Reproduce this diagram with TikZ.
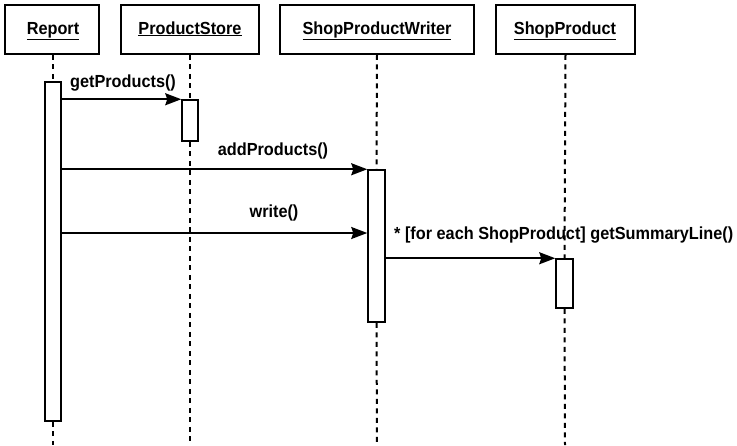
\documentclass[tikz,border=0pt]{standalone}
\usepackage{fontspec}
\setmainfont{Liberation Sans}[BoldFeatures={FakeStretch=0.93}]
\usetikzlibrary{arrows.meta}
\begin{document}
\begin{tikzpicture}[x=1pt,y=-1pt,
  font=\fontsize{17.5}{20}\selectfont\bfseries,
  header/.style={draw, line width=1.6pt, rectangle, minimum height=49pt, inner sep=0pt},
  act/.style={draw, line width=1.5pt, rectangle, fill=white, inner sep=0pt},
  life/.style={line width=2pt, dash pattern=on 5pt off 4.5pt},
  msg/.style={line width=1.7pt, -{Stealth[length=16pt,width=12pt,inset=2pt]}},
  lbl/.style={inner sep=0pt, anchor=base}]
\useasboundingbox (0,0) rectangle (737,445);
\fill[white] (0,0) rectangle (737,445);

% headers
\node[header, minimum width=94pt] (rep) at (52,29.5) {};
\node[header, minimum width=138pt] (ps) at (190,29.5) {};
\node[header, minimum width=194pt] (spw) at (377,29.5) {};
\node[header, minimum width=139pt] (sp) at (565.5,29.5) {};
\node[lbl] (repT) at (53,34) {\underline{Report}};
\node[lbl] (psT) at (190,34) {\underline{ProductStore}};
\node[lbl] (spwT) at (377,34) {\underline{ShopProductWriter}};
\node[lbl] (spT) at (565,34) {\underline{ShopProduct}};

% bottom ends of lifelines
\coordinate (repB) at (53,445);
\coordinate (psB) at (190,445);
\coordinate (spwB) at (377,445);
\coordinate (spB) at (565,445);

% activations
\node[act, minimum width=16pt, minimum height=339pt] (ra) at (53,251.5) {};
\node[act, minimum width=16pt, minimum height=41pt] (psa) at (190,120.5) {};
\node[act, minimum width=17pt, minimum height=152pt] (spwa) at (376.5,246) {};
\node[act, minimum width=17pt, minimum height=49pt] (spa) at (564.5,283.5) {};

% lifelines
\draw[life] (rep.south -| ra.north) -- (ra.north);
\draw[life] (ra.south) -- (repB);
\draw[life] (ps.south) -- (psa.north);
\draw[life] (psa.south) -- (psB);
\draw[life] (spw.south) -- (spwa.north);
\draw[life] (spwa.south) -- (spwB);
\draw[life] (sp.south) -- (spa.north);
\draw[life] (spa.south) -- (spB);

% messages
\coordinate (wy) at (0,233);
\draw[msg] (ra.east |- psa.north) -- (psa.north west);
\draw[msg] (ra.east |- spwa.north) -- (spwa.north west);
\draw[msg] (ra.east |- wy) -- (spwa.west |- wy);
\draw[msg] (spwa.east |- spa.north) -- (spa.north west);

% labels
\node[lbl] (l1) at (123,87) {getProducts()};
\node[lbl] (l2) at (273,155) {addProducts()};
\node[lbl] (l3) at (274,217) {write()};
\node[lbl, anchor=base west] (l4) at (394,239) {* [for each ShopProduct] getSummaryLine()};
\end{tikzpicture}
\end{document}
